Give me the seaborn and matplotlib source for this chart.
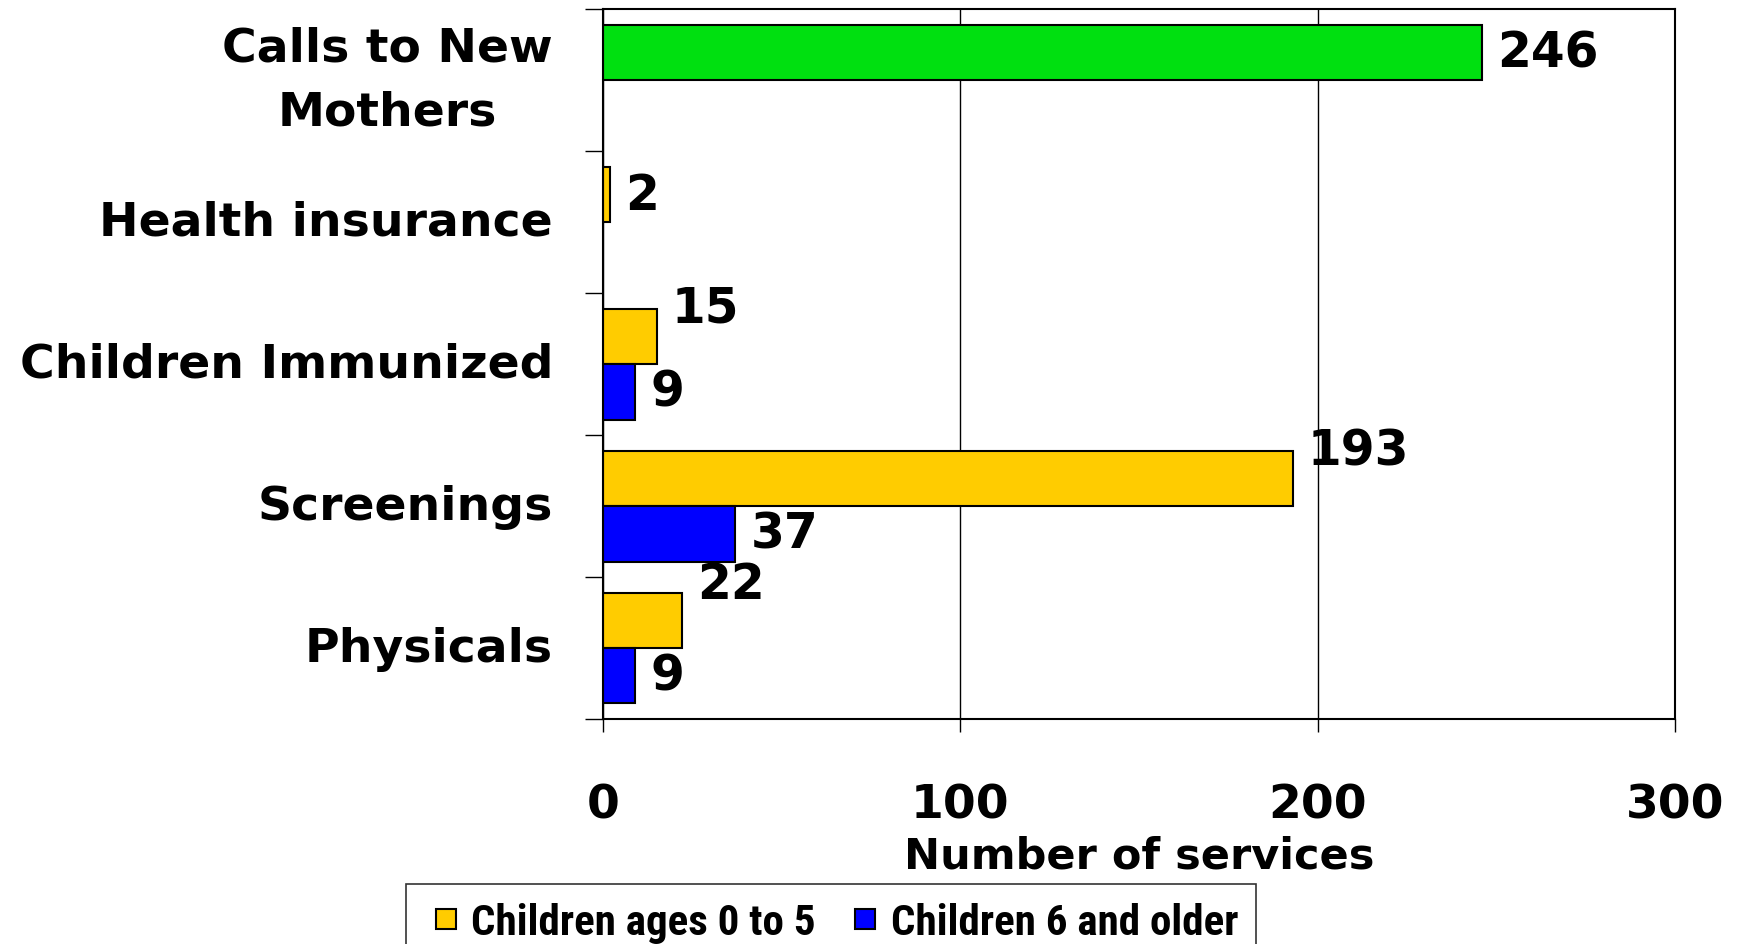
import matplotlib
matplotlib.use("Agg")
import matplotlib.pyplot as plt
import seaborn as sns
import pandas as pd
from matplotlib.lines import Line2D

# chart data
categories = ["Calls to New\nMothers", "Health insurance", "Children Immunized", "Screenings", "Physicals"]
series = ["Children ages 0 to 5", "Children 6 and older"]
young = [246, 2, 15, 193, 22]
older = [None, None, 9, 37, 9]
x_ticks = [0, 100, 200, 300]

# label nudges (points, upward) for the value labels
young_dy = [0, 0, 21, 20, 26]
older_dy = [0, 0, 0, 0, 0]

rows = []
for cat, v in zip(categories, young):
    if v is not None:
        rows.append({"cat": cat, "group": series[0], "val": v})
for cat, v in zip(categories, older):
    if v is not None:
        rows.append({"cat": cat, "group": series[1], "val": v})
df = pd.DataFrame(rows)

colors = {series[0]: "#FFCC00", series[1]: "#0000FF"}
green = "#00E010"

sns.set_style("white")
plt.rcParams["font.family"] = ["DejaVu Sans"]
plt.rcParams["font.weight"] = "bold"
for k in ["text.color", "axes.labelcolor", "xtick.color", "ytick.color"]:
    plt.rcParams[k] = "black"

fig = plt.figure(figsize=(17.38, 9.45), dpi=100)
ax = fig.add_axes([0.347, 0.238, 0.6167, 0.751])

sns.barplot(data=df, y="cat", x="val", hue="group", order=categories,
            hue_order=series, palette=colors, saturation=1, orient="h", width=0.78,
            edgecolor="black", linewidth=1.5, legend=False, ax=ax)

# value labels
for i, cont in enumerate(ax.containers):
    vals = young if i == 0 else older
    dys = young_dy if i == 0 else older_dy
    for bar in cont:
        w = bar.get_width()
        if not w == w:
            continue
        idx = int(round(bar.get_y() + bar.get_height() / 2))
        if i == 0 and idx == 0:
            bar.set_facecolor(green)
        ax.annotate(f"{vals[idx]:g}", (w, bar.get_y() + bar.get_height() / 2),
                    xytext=(11, dys[idx]), textcoords="offset points",
                    ha="left", va="center", fontsize=35, fontweight="bold")

ax.set_xlim(0, 300)
ax.set_ylim(len(categories) - 0.5, -0.5)
ax.set_xticks(x_ticks)
ax.set_xticklabels([str(t) for t in x_ticks], fontsize=34, fontweight="bold")
ax.tick_params(axis="x", length=9, width=1, direction="out", pad=37, bottom=True)
ax.set_yticks(range(len(categories)))
ax.set_yticklabels(categories, fontsize=34, fontweight="bold", multialignment="center",
                   linespacing=1.55)
ax.tick_params(axis="y", length=0, pad=36)
for lab in ax.get_yticklabels():
    lab.set_verticalalignment("center")
ax.set_yticks([i - 0.5 for i in range(len(categories) + 1)], minor=True)
ax.tick_params(axis="y", which="minor", length=13, width=1, left=True)
ax.set_ylabel("")
ax.set_xlabel("Number of services", fontsize=31, fontweight="bold", labelpad=5)

ax.grid(axis="x", color="black", linewidth=1)
ax.set_axisbelow(True)
for s in ax.spines.values():
    s.set_visible(True)
    s.set_color("black")
    s.set_linewidth(1.5)

handles = [Line2D([], [], linestyle="none", marker="s", markersize=14.5,
                  markerfacecolor=colors[s], markeredgecolor="black", markeredgewidth=1.5)
           for s in series]
leg = fig.legend(handles, series, loc="upper left", bbox_to_anchor=(406 / 1738, 1 - 885 / 945),
                 ncol=2, frameon=True, fancybox=False, edgecolor="black",
                 prop={"family": ["Roboto Condensed", "Liberation Sans", "DejaVu Sans"],
                       "size": 31, "weight": "bold"},
                 handlelength=1.0, handletextpad=0.1, columnspacing=0.63,
                 borderpad=0.42, borderaxespad=0)
leg.get_frame().set_linewidth(1.2)

fig.savefig("out.png", dpi=100)
